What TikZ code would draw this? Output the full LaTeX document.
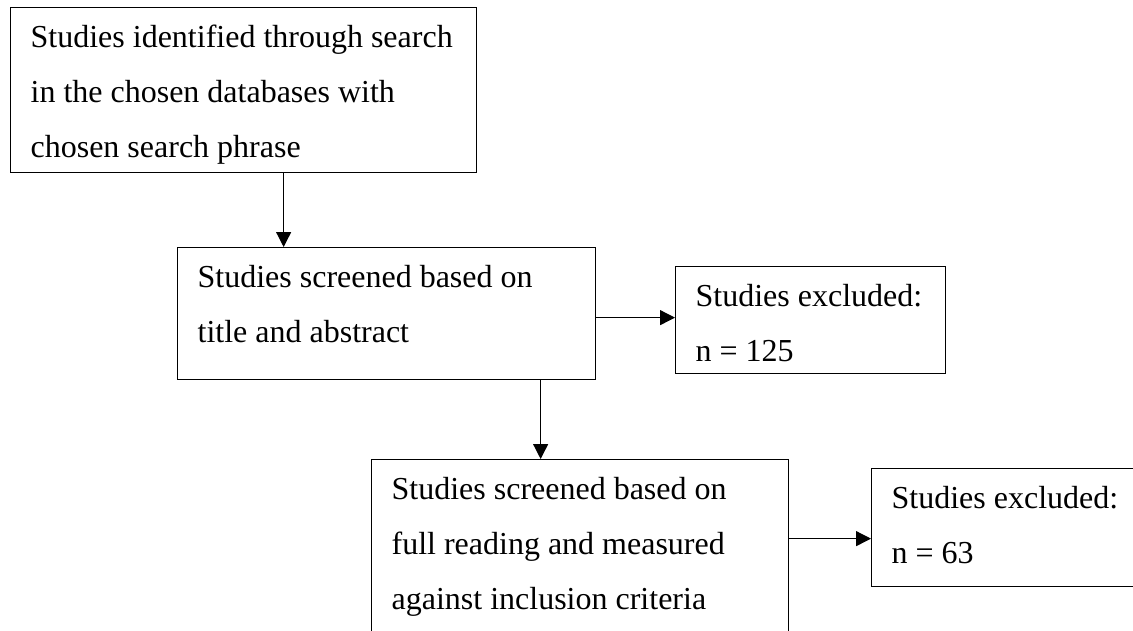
\documentclass[tikz,border=0pt]{standalone}
\usepackage{fontspec}
\setmainfont{Liberation Serif}
\usetikzlibrary{arrows.meta}

\begin{document}
\begin{tikzpicture}
            \tikzstyle{every node}=[font=\fontsize{22.76pt}{39.12pt}\selectfont]
            \tikzstyle{box}=[draw, line width=0.9pt, anchor=north west, inner xsep=0.5cm, inner ysep=0pt, align=flush left, text height=1cm]
            \tikzstyle{arr}=[-{Triangle[length=0.37cm,width=0.37cm]}, line width=0.9pt]
            \useasboundingbox (0,0) rectangle (28.325,15.75);
            \clip (0,0) rectangle (28.325,15.75);
            \node [box, text width=10.65cm, text depth=3.125cm] (ident) at (0.25,15.575) {Studies identified through search\\in the chosen databases with\\chosen search phrase};
            \node [box, text width=9.45cm, text depth=2.3cm] (title) at (4.425,9.575) {Studies screened based on\\title and abstract};
            \node [box, text width=5.75cm, text depth=1.675cm] (excl1) at (16.875,9.1) {Studies excluded:\\n = 125};
            \node [box, text width=9.425cm, text depth=3.775cm] (full) at (9.275,4.275) {Studies screened based on\\full reading and measured\\against inclusion criteria};
            \node [box, text width=7cm, text depth=1.95cm] (excl2) at (21.775,4.05) {Studies excluded:\\n = 63};
            \draw [arr] ([xshift=1cm]ident.south) -- ([xshift=1cm]ident.south |- title.north);
            \draw [arr] ([yshift=-0.1cm]title.east) -- ([yshift=-0.1cm]title.east -| excl1.west);
            \draw [arr] ([xshift=3.85cm]title.south) -- ([xshift=3.85cm]title.south |- full.north);
            \draw [arr] ([yshift=-0.275cm]excl2.west -| full.east) -- ([yshift=-0.275cm]excl2.west);
        \end{tikzpicture}
\end{document}
